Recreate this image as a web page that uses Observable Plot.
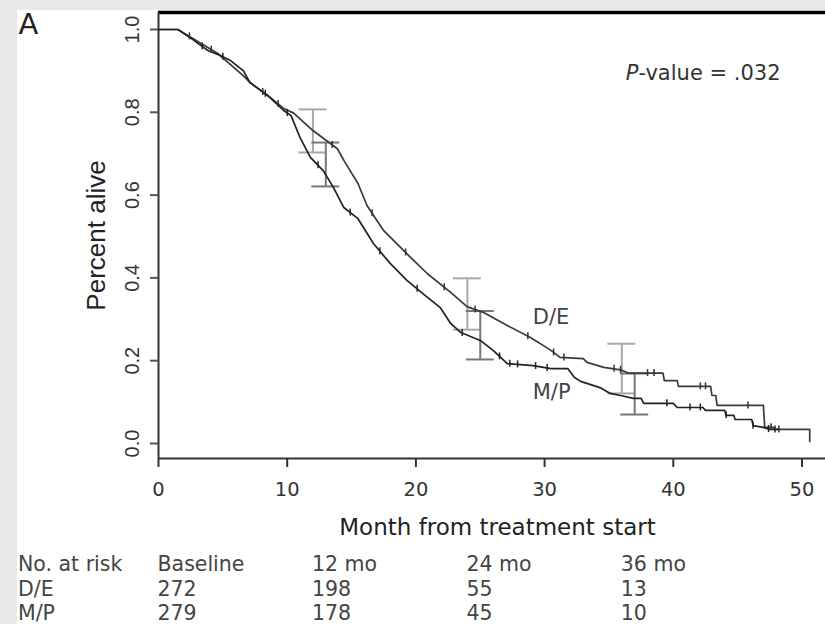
<!DOCTYPE html>
<html><head><meta charset="utf-8">
<script src="https://cdn.jsdelivr.net/npm/d3@7"></script>
<script src="https://cdn.jsdelivr.net/npm/@observablehq/plot@0.6"></script>
<style>
html,body{margin:0;padding:0;background:#e8e8e8;}
#wrap{position:relative;width:825px;height:624px;overflow:hidden;}
#panel{position:absolute;left:17px;top:10px;width:808px;height:614px;background:#fff;}
#chart{position:absolute;left:0;top:0;}
</style></head><body>
<div id="wrap"><div id="panel"></div><div id="chart"></div></div>
<script>
// ---- data ----
const xTicks = [0, 10, 20, 30, 40, 50];
const yTicks = [0.0, 0.2, 0.4, 0.6, 0.8, 1.0];

// Kaplan-Meier curves: [month, survival] vertices
const deCurve = [[0,1],[1.5,1],[2.7,0.978],[3.8,0.957],[4.6,0.942],[5.6,0.915],[6.6,0.888],[7.1,0.872],[8.5,0.840],[9.7,0.810],[10.5,0.798],[12.0,0.756],[13.9,0.712],[14.4,0.684],[15.5,0.628],[16.2,0.575],[17.5,0.514],[19.6,0.449],[20.9,0.410],[22.7,0.365],[24.0,0.330],[25.3,0.316],[27.1,0.285],[28.9,0.256],[30.5,0.225],[31.2,0.208],[33.0,0.205],[33.3,0.196],[34.6,0.184],[35.9,0.178],[36.5,0.170],[39.2,0.170],[39.3,0.152],[40.3,0.152],[40.4,0.138],[42.9,0.138],[43.0,0.116],[43.3,0.116],[43.4,0.092],[47.0,0.092],[47.1,0.039],[47.8,0.039],[47.9,0.034],[50.6,0.034],[50.6,0.005]];
const mpCurve = [[0,1],[1.5,1],[2.7,0.975],[3.8,0.950],[4.6,0.940],[5.6,0.925],[6.6,0.900],[7.1,0.872],[8.5,0.840],[9.7,0.805],[10.3,0.792],[11.0,0.739],[11.8,0.691],[12.8,0.659],[13.6,0.618],[14.4,0.570],[15.5,0.543],[16.7,0.483],[18.0,0.435],[19.3,0.394],[20.9,0.353],[21.9,0.328],[22.7,0.290],[23.5,0.268],[25.0,0.249],[26.0,0.225],[27.1,0.193],[29.1,0.188],[30.5,0.181],[31.8,0.181],[32.3,0.160],[32.8,0.150],[34.3,0.135],[35.1,0.121],[35.9,0.116],[36.9,0.109],[37.5,0.109],[37.7,0.097],[40.0,0.097],[40.3,0.087],[42.3,0.087],[42.5,0.080],[44.0,0.080],[44.1,0.068],[44.7,0.068],[44.8,0.058],[46.1,0.058],[46.2,0.043],[47.0,0.039],[47.5,0.034],[48.2,0.034]];

// censoring marks (months)
const deCensor = [2.4, 4.1, 8.1, 9.3, 13.5, 16.6, 19.2, 22.2, 24.6, 28.7, 30.7, 31.5, 35.4, 35.9, 38.0, 38.5, 42.1, 42.5, 45.8, 47.6, 48.2];
const mpCensor = [3.4, 5.0, 8.3, 10.0, 12.4, 14.9, 17.2, 20.1, 23.6, 26.5, 27.3, 27.9, 29.3, 30.2, 39.5, 41.3, 42.1, 44.1, 46.2, 47.4, 47.9];

// 95% confidence intervals
const deCI = [{month: 12, lo: 0.703, hi: 0.807}, {month: 24, lo: 0.275, hi: 0.399}, {month: 36, lo: 0.121, hi: 0.241}];
const mpCI = [{month: 13, lo: 0.621, hi: 0.727}, {month: 25, lo: 0.203, hi: 0.320}, {month: 37, lo: 0.070, hi: 0.169}];

// curve labels (series name and month where the label sits)
const deLabel = [{series: "D/E", month: 29}];
const mpLabel = [{series: "M/P", month: 29}];

const pValueText = "P-value = .032";

// numbers at risk
const riskMonths = [0, 12, 24, 36];
const riskHeaders = ["Baseline", "12 mo", "24 mo", "36 mo"];
const riskDE = [272, 198, 55, 13];
const riskMP = [279, 178, 45, 10];
const riskRowLabels = ["No. at risk", "D/E", "M/P"];

// ---- helpers ----
function survAt(curve, m) {
  for (let i = 0; i < curve.length - 1; i++) {
    const [x0, y0] = curve[i], [x1, y1] = curve[i + 1];
    if (m >= x0 && m <= x1) return x1 === x0 ? y0 : y0 + (y1 - y0) * (m - x0) / (x1 - x0);
  }
  return curve[curve.length - 1][1];
}
const deCens = deCensor.map(m => ({month: m, s: survAt(deCurve, m)}));
const mpCens = mpCensor.map(m => ({month: m, s: survAt(mpCurve, m)}));
const deLab = deLabel.map(d => ({...d, s: survAt(deCurve, d.month)}));
const mpLab = mpLabel.map(d => ({...d, s: survAt(mpCurve, d.month)}));
const riskHead = riskMonths.map((m, i) => ({month: m, t: riskHeaders[i]}));
const riskRowDE = riskMonths.map((m, i) => ({month: m, t: String(riskDE[i])}));
const riskRowMP = riskMonths.map((m, i) => ({month: m, t: String(riskMP[i])}));

const sans = "DejaVu Sans";
const arial = "Liberation Sans";
const txt = "#333";
const tableFill = "#444";
const rowDy = [105.5, 130.5, 155.3];
const tableFont = 20.5;

const rowLabelMarks = riskRowLabels.map((label, i) =>
  Plot.text([label], {text: d => d, frameAnchor: "bottom-left", dx: -140.5, dy: rowDy[i], textAnchor: "start", lineAnchor: "middle", fontSize: tableFont, fill: tableFill}));
const rowMarks = [riskHead, riskRowDE, riskRowMP].map((row, i) =>
  Plot.text(row, {x: "month", text: "t", frameAnchor: "bottom", dx: -1, dy: rowDy[i], textAnchor: "start", lineAnchor: "middle", fontSize: tableFont, fill: tableFill}));

const chart = Plot.plot({
  width: 825,
  height: 624,
  marginLeft: 158,
  marginRight: 0,
  marginTop: 12,
  marginBottom: 166,
  style: {fontFamily: sans, background: "transparent", overflow: "visible"},
  x: {domain: [0, 50], insetRight: 23.5},
  y: {domain: [0, 1], insetTop: 17, insetBottom: 15},
  marks: [
    // frame lines
    Plot.ruleY([1], {dy: -17, stroke: "#000", strokeWidth: 3.5}),
    Plot.ruleX([0], {stroke: "#333", strokeWidth: 2}),
    Plot.ruleY([0], {dy: 15, stroke: "#333", strokeWidth: 2}),
    Plot.axisX({ticks: xTicks, tickSize: 9, tickFormat: () => "", stroke: "#333", strokeWidth: 2, label: null}),
    Plot.axisY({ticks: yTicks, tickSize: 8, tickFormat: () => "", stroke: "#555", strokeWidth: 2, label: null}),
    // tick labels
    Plot.text(xTicks, {x: d => d, text: d => String(d), frameAnchor: "bottom", dy: 31, lineAnchor: "middle", fontSize: 19.5, fill: txt}),
    Plot.text(yTicks, {y: d => d, text: d => d3.format(".1f")(d), frameAnchor: "left", dx: -26.4, rotate: -90, textAnchor: "middle", lineAnchor: "middle", fontFamily: arial, fontSize: 20, fill: txt}),
    // axis titles
    Plot.text(["Month from treatment start"], {text: d => d, frameAnchor: "bottom", dx: 5.5, dy: 69.5, lineAnchor: "middle", fontSize: 23, fill: "#222"}),
    Plot.text(["Percent alive"], {text: d => d, frameAnchor: "left", dx: -62, rotate: -90, textAnchor: "middle", lineAnchor: "middle", fontFamily: arial, fontSize: 26, fill: "#222"}),
    // panel letter and p-value
    Plot.text(["A"], {text: d => d, frameAnchor: "top-left", dx: -140, dy: 12.5, textAnchor: "start", lineAnchor: "middle", fontSize: 29, fill: "#222"}),
    Plot.text([pValueText], {text: d => d, frameAnchor: "top-right", dx: -45, dy: 60.5, textAnchor: "end", lineAnchor: "middle", fontSize: 21, fill: txt}),
    // confidence intervals
    Plot.ruleX(deCI, {x: "month", y1: "lo", y2: "hi", stroke: "#a8a8a8", strokeWidth: 2}),
    Plot.ruleY(deCI, {y: "hi", x1: "month", x2: "month", insetLeft: -14, insetRight: -14, stroke: "#a8a8a8", strokeWidth: 2}),
    Plot.ruleY(deCI, {y: "lo", x1: "month", x2: "month", insetLeft: -14, insetRight: -14, stroke: "#a8a8a8", strokeWidth: 2}),
    Plot.ruleX(mpCI, {x: "month", y1: "lo", y2: "hi", stroke: "#777", strokeWidth: 2}),
    Plot.ruleY(mpCI, {y: "hi", x1: "month", x2: "month", insetLeft: -14, insetRight: -14, stroke: "#777", strokeWidth: 2}),
    Plot.ruleY(mpCI, {y: "lo", x1: "month", x2: "month", insetLeft: -14, insetRight: -14, stroke: "#777", strokeWidth: 2}),
    // survival curves
    Plot.line(deCurve, {x: d => d[0], y: d => d[1], stroke: "#3a3a3a", strokeWidth: 1.7}),
    Plot.line(mpCurve, {x: d => d[0], y: d => d[1], stroke: "#222", strokeWidth: 1.7}),
    // censor ticks
    Plot.ruleX(deCens, {x: "month", y1: "s", y2: "s", insetTop: -3.5, insetBottom: -3.5, stroke: "#333", strokeWidth: 1.5}),
    Plot.ruleX(mpCens, {x: "month", y1: "s", y2: "s", insetTop: -3.5, insetBottom: -3.5, stroke: "#222", strokeWidth: 1.5}),
    // curve labels
    Plot.text(deLab, {x: "month", y: "s", text: "series", dx: 1, dy: -21, textAnchor: "start", lineAnchor: "middle", fontSize: 21, fill: "#444"}),
    Plot.text(mpLab, {x: "month", y: "s", text: "series", dx: 1, dy: 26.6, textAnchor: "start", lineAnchor: "middle", fontSize: 21, fill: "#444"}),
    // numbers at risk table
    ...rowLabelMarks,
    ...rowMarks
  ]
});
document.getElementById("chart").appendChild(chart);

// italic "P" in the p-value annotation
d3.select(chart).selectAll("text").each(function () {
  if (this.textContent === pValueText) {
    const el = d3.select(this);
    el.text(null);
    el.append("tspan").attr("font-style", "italic").text(pValueText.slice(0, 1));
    el.append("tspan").text(pValueText.slice(1));
  }
});
</script>
</body></html>
